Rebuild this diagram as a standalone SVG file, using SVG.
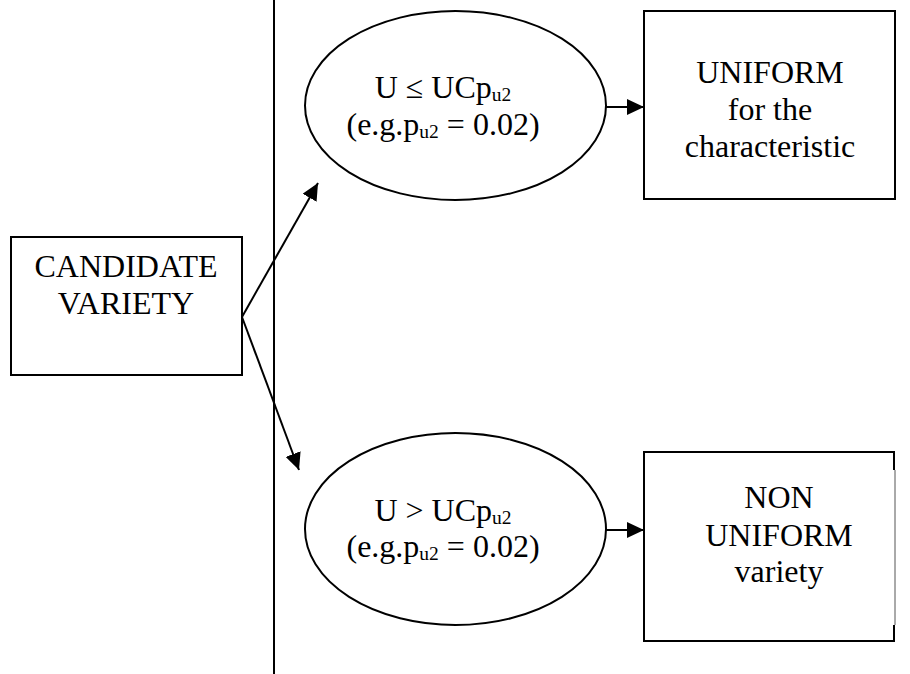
<svg xmlns="http://www.w3.org/2000/svg" width="910" height="674" viewBox="0 0 910 674" font-family="Liberation Serif">
<style>
.s{fill:none;stroke:#000;stroke-width:2}
text.t{font-family:'Liberation Serif','Times New Roman',serif;font-size:32px;fill:#000;text-anchor:middle}
.sub{font-size:19.5px}
</style>
<defs>
<marker id="ah" markerUnits="userSpaceOnUse" markerWidth="18" markerHeight="16" refX="17" refY="8" orient="auto">
<path d="M0,0 L17,8 L0,16 Z" fill="#000"/>
</marker>
</defs>
<rect width="910" height="674" fill="#fff"/>
<line x1="274" y1="0" x2="274" y2="674" class="s"/>
<g id="candidate">
<rect x="11" y="237" width="231" height="138" class="s"/>
<text class="t" x="126" y="277">CANDIDATE</text>
<text class="t" x="126" y="314">VARIETY</text>
</g>
<g id="cond-uniform">
<ellipse cx="455.5" cy="105.5" rx="150.5" ry="94.5" class="s"/>
<text class="t" x="443" y="98">U ≤ UCp<tspan class="sub" dy="3">u2</tspan></text>
<text class="t" x="443" y="135">(e.g.p<tspan class="sub" dy="3">u2</tspan><tspan dy="-3"> = 0.02)</tspan></text>
</g>
<g id="cond-nonuniform">
<ellipse cx="455.5" cy="529" rx="150.5" ry="96" class="s"/>
<text class="t" x="443" y="521">U &gt; UCp<tspan class="sub" dy="3">u2</tspan></text>
<text class="t" x="443" y="557">(e.g.p<tspan class="sub" dy="3">u2</tspan><tspan dy="-3"> = 0.02)</tspan></text>
</g>
<g id="uniform">
<rect x="644" y="11" width="251" height="188" class="s"/>
<text class="t" x="770" y="83">UNIFORM</text>
<text class="t" x="770" y="120">for the</text>
<text class="t" x="770" y="157">characteristic</text>
</g>
<g id="nonuniform">
<path d="M894,470 V452 H644 V641 H894 V625" class="s"/>
<line x1="895" y1="470" x2="895" y2="625" stroke="#555" stroke-width="1"/>
<text class="t" x="779" y="508">NON</text>
<text class="t" x="779" y="546">UNIFORM</text>
<text class="t" x="779" y="582">variety</text>
</g>
<g id="connectors">
<line x1="242" y1="317" x2="318" y2="183" class="s" marker-end="url(#ah)"/>
<line x1="242" y1="317" x2="299" y2="470" class="s" marker-end="url(#ah)"/>
<line x1="606" y1="107" x2="644" y2="107" class="s" marker-end="url(#ah)"/>
<line x1="606" y1="530" x2="644" y2="530" class="s" marker-end="url(#ah)"/>
</g>
</svg>
